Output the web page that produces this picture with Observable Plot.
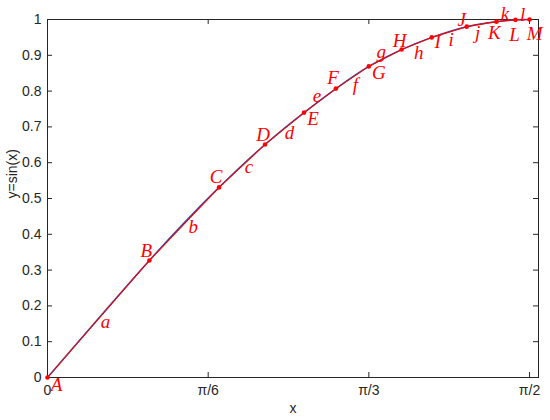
<!DOCTYPE html>
<html>
<head>
<meta charset="utf-8">
<script src="https://cdn.jsdelivr.net/npm/d3@7"></script>
<script src="https://cdn.jsdelivr.net/npm/@observablehq/plot@0.6"></script>
<style>
  html, body { margin: 0; padding: 0; background: #fff; }
  #chart { width: 550px; height: 420px; }
</style>
</head>
<body>
<div id="chart"></div>
<script>
// Points on y = sin(x)
const pointNames = ["A","B","C","D","E","F","G","H","I","J","K","L","M"];
const pointX = [0, 0.332, 0.559, 0.709, 0.836, 0.940, 1.047, 1.154, 1.252, 1.366, 1.463, 1.525, 1.571];
const pointY = [0, 0.327, 0.531, 0.651, 0.740, 0.807, 0.869, 0.916, 0.950, 0.980, 0.994, 0.999, 1.000];
// Segment names between consecutive points
const segmentNames = ["a","b","c","d","e","f","g","h","i","j","k","l"];
// Label offsets (styling, in px)
const pointLabelDx = [9, -3, -3, -2, 9, -3, 10, -2, 6, -5, -2, -1, 5];
const pointLabelDy = [7, -10, -10, -10, 6, -11, 7, -9, 5, -7, 11, 15, 14];
const segLabelDx = [7, 9, 7, 5, -3, 3, -4, 2, 2, -4, -1, 0];
const segLabelDy = [3, 3, 1, 4, -5, 7, -6, 9, 8, 9, -7, -5];
// Axis ticks
const xTicks = [0, Math.PI / 6, Math.PI / 3, Math.PI / 2];
const xTickLabels = ["0", "π/6", "π/3", "π/2"];
const yTicks = [0, 0.1, 0.2, 0.3, 0.4, 0.5, 0.6, 0.7, 0.8, 0.9, 1];
const yTickLabels = ["0", "0.1", "0.2", "0.3", "0.4", "0.5", "0.6", "0.7", "0.8", "0.9", "1"];

const xDomain = [0, 1.6];
const yDomain = [0, 1];

const pts = pointNames.map((n, i) => ({name: n, x: pointX[i], y: pointY[i], dx: pointLabelDx[i], dy: pointLabelDy[i]}));
const segs = segmentNames.map((n, i) => ({
  name: n,
  x: (pointX[i] + pointX[i + 1]) / 2,
  y: (pointY[i] + pointY[i + 1]) / 2,
  dx: segLabelDx[i], dy: segLabelDy[i]
}));

const red = "#ff0000";
const blue = "#1d4fb8";
const axisColor = "#262626";
const serif = "'Liberation Serif', 'Times New Roman', serif";

const W = 550, H = 420, mL = 47, mR = 12, mT = 19, mB = 43;
// tick length of 5px expressed in each scale's units
const tx = 5 * (xDomain[1] - xDomain[0]) / (W - mL - mR);
const ty = 5 * (yDomain[1] - yDomain[0]) / (H - mT - mB);

const labelMarks = (data) => data.map(d => Plot.text([d], {
  x: "x", y: "y", text: "name", dx: d.dx, dy: d.dy,
  fill: red, fontSize: 19, fontStyle: "italic", fontFamily: serif,
  textAnchor: "middle", lineAnchor: "middle"
}));

const chart = Plot.plot({
  width: W,
  height: H,
  marginLeft: mL,
  marginRight: mR,
  marginTop: mT,
  marginBottom: mB,
  style: {fontFamily: "'Liberation Sans', Arial, sans-serif", fontSize: "14px", color: axisColor, background: "white"},
  x: {domain: xDomain},
  y: {domain: yDomain},
  marks: [
    Plot.frame({stroke: axisColor, strokeWidth: 1}),
    // inner ticks
    Plot.ruleX(xTicks, {x: d => d, y1: yDomain[0], y2: yDomain[0] + ty, stroke: axisColor}),
    Plot.ruleX(xTicks, {x: d => d, y1: yDomain[1], y2: yDomain[1] - ty, stroke: axisColor}),
    Plot.ruleY(yTicks, {y: d => d, x1: xDomain[0], x2: xDomain[0] + tx, stroke: axisColor}),
    Plot.ruleY(yTicks, {y: d => d, x1: xDomain[1], x2: xDomain[1] - tx, stroke: axisColor}),
    // tick labels
    Plot.axisX(xTicks, {anchor: "bottom", tickSize: 0, tickPadding: 8, tickFormat: (d, i) => xTickLabels[i], label: null, fill: axisColor, fontSize: 14}),
    Plot.axisY(yTicks, {anchor: "left", tickSize: 0, tickPadding: 6, tickFormat: (d, i) => yTickLabels[i], label: null, fill: axisColor, fontSize: 14}),
    // axis titles
    Plot.text(["x"], {frameAnchor: "bottom", dy: 31, fill: axisColor, fontSize: 14, lineAnchor: "middle"}),
    Plot.text(["y=sin(x)"], {frameAnchor: "left", dx: -35, rotate: -90, fill: axisColor, fontSize: 14, lineAnchor: "middle"}),
    // smooth curve through the points
    Plot.line(pts, {x: "x", y: "y", stroke: blue, strokeWidth: 1.5, curve: "natural"}),
    // chords
    Plot.line(pts, {x: "x", y: "y", stroke: red, strokeWidth: 1.1}),
    Plot.dot(pts, {x: "x", y: "y", r: 2.3, fill: red}),
    ...labelMarks(pts),
    ...labelMarks(segs)
  ]
});
document.getElementById("chart").append(chart);
</script>
</body>
</html>
